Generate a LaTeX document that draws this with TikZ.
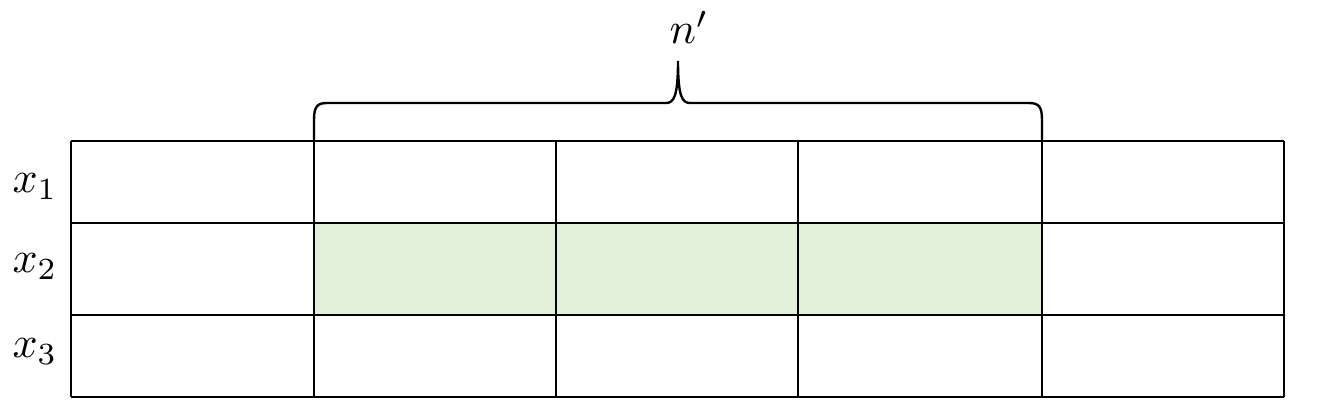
\documentclass[tikz,border=0pt]{standalone}
\usepackage{amsmath,amssymb}
\usepackage{xcolor}
\usepackage{tikz}
\definecolor{cellgreen}{HTML}{E2EFDA}

\begin{document}
\begin{tikzpicture}[x=0.5pt, y=-0.5pt, line width=1.2pt,
    lab/.style={anchor=base, inner sep=0pt, scale=2.2}]
  \useasboundingbox (0,0) rectangle (1318,416);
  \fill[cellgreen] (314,223) rectangle (1042,315);
  \foreach \y in {141,223,315,397}
    \draw (71,\y) -- (1284,\y);
  \foreach \x in {71,314,556,798,1042,1284}
    \draw (\x,141) -- (\x,397);
  \draw (314,141) -- (314,120) .. controls (314,107) and (317,103) .. (327,103)
    -- (666,103) .. controls (674,103) and (678,96) .. (678,61)
    .. controls (678,96) and (682,103) .. (690,103)
    -- (1029,103) .. controls (1039,103) and (1042,107) .. (1042,120) -- (1042,141);
  \node[lab] (np) at (689,44) {$n'$};
  \node[lab] (x1) at (35,193) {$x_1$};
  \node[lab] (x2) at (35,273) {$x_2$};
  \node[lab] (x3) at (35,358) {$x_3$};
\end{tikzpicture}
\end{document}
